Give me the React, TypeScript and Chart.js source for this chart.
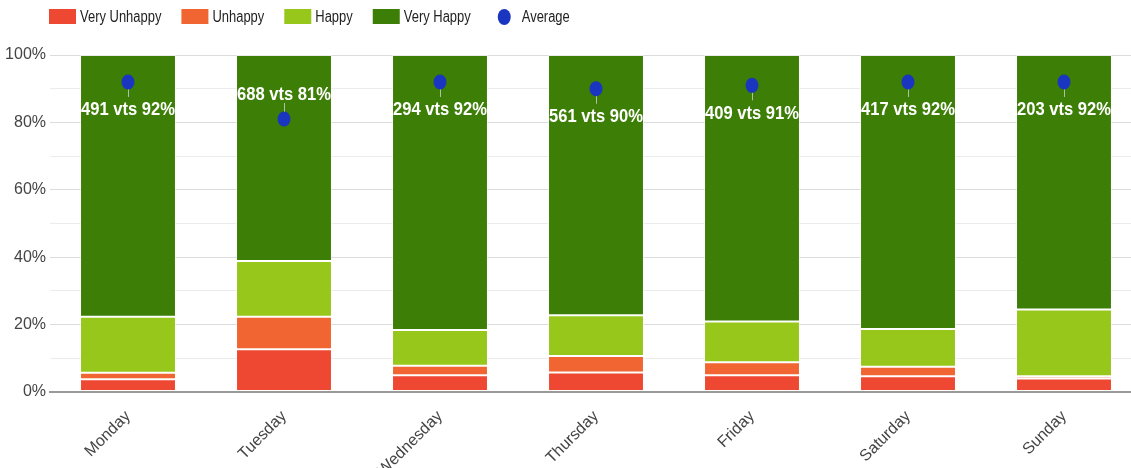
import React, { useEffect, useRef } from 'react';
import { Chart, registerables } from 'chart.js';

Chart.register(...registerables);

const categories = ['Monday', 'Tuesday', 'Wednesday', 'Thursday', 'Friday', 'Saturday', 'Sunday'];
const veryUnhappy = [3.8, 12.7, 5.0, 5.8, 5.0, 4.7, 4.0];
const unhappy = [1.9, 9.6, 2.8, 4.9, 3.8, 2.8, 0.7];
const happy = [16.6, 16.6, 10.6, 12.1, 12.1, 11.2, 19.8];
const veryHappy = [77.7, 61.1, 81.6, 77.2, 79.1, 81.3, 75.5];
const average = [92, 81, 92, 90, 91, 92, 92];
const votes = [491, 688, 294, 561, 409, 417, 203];

const seriesLabels = ['Very Unhappy', 'Unhappy', 'Happy', 'Very Happy', 'Average'];
const seriesColors = ['#EE4832', '#F16533', '#98C71C', '#3D7E07', '#1A35C0'];

const yMin = 0;
const yMax = 100;
const yStep = 10;
const yLabelEvery = 20;

const FONT = '"Liberation Sans", Arial, Helvetica, sans-serif';

const legendPlugin = {
  id: 'customLegend',
  afterDraw(chart: any) {
    const ctx = chart.ctx;
    const sx = 0.81;
    let x = 49;
    const cy = 17;
    ctx.save();
    ctx.font = `16px ${FONT}`;
    ctx.textBaseline = 'middle';
    chart.data.datasets.forEach((ds: any) => {
      const color = ds.legendColor;
      if (ds.type === 'line') {
        ctx.fillStyle = color;
        ctx.beginPath();
        ctx.ellipse(x + 13.5, cy, 6.5, 8, 0, 0, Math.PI * 2);
        ctx.fill();
      } else {
        ctx.fillStyle = color;
        ctx.fillRect(x, cy - 8, 27, 15);
      }
      const tx = x + 31;
      const w = ctx.measureText(ds.label).width * sx;
      ctx.save();
      ctx.translate(tx, cy + 1);
      ctx.scale(sx, 1);
      ctx.fillStyle = '#222';
      ctx.fillText(ds.label, 0, 0);
      ctx.restore();
      x = tx + w + 20;
    });
    ctx.restore();
  },
};

const annotationPlugin = {
  id: 'avgAnnotations',
  afterDatasetsDraw(chart: any) {
    const ctx = chart.ctx;
    const idx = chart.data.datasets.findIndex((d: any) => d.type === 'line');
    if (idx < 0) return;
    const meta = chart.getDatasetMeta(idx);
    const ds = chart.data.datasets[idx];
    ctx.save();
    meta.data.forEach((pt: any, i: number) => {
      const x = pt.x;
      const y = pt.y;
      const v = ds.data[i];
      const above = v < 85;
      ctx.strokeStyle = 'rgba(190,200,190,0.9)';
      ctx.lineWidth = 1;
      ctx.beginPath();
      if (above) {
        ctx.moveTo(x + 0.5, y - 16);
        ctx.lineTo(x + 0.5, y - 7);
      } else {
        ctx.moveTo(x + 0.5, y + 7);
        ctx.lineTo(x + 0.5, y + 15);
      }
      ctx.stroke();
      ctx.fillStyle = ds.legendColor;
      ctx.beginPath();
      ctx.ellipse(x, y, 6.5, 7.5, 0, 0, Math.PI * 2);
      ctx.fill();
      const text = `${votes[i]} vts ${v}%`;
      ctx.font = `bold 19px ${FONT}`;
      ctx.textBaseline = 'alphabetic';
      ctx.textAlign = 'center';
      ctx.fillStyle = '#ffffff';
      const by = above ? y - 19 : y + 33.5;
      ctx.save();
      ctx.translate(x, by);
      ctx.scale(0.873, 1);
      ctx.fillText(text, 0, 0);
      ctx.restore();
    });
    ctx.restore();
  },
};

export default function App() {
  const ref = useRef<HTMLCanvasElement | null>(null);

  useEffect(() => {
    const canvas = ref.current;
    if (!canvas) return;
    const barSeries = [veryUnhappy, unhappy, happy, veryHappy];
    const datasets: any[] = barSeries.map((d, i) => ({
      type: 'bar',
      label: seriesLabels[i],
      data: d,
      backgroundColor: seriesColors[i],
      legendColor: seriesColors[i],
      borderColor: 'rgba(255,255,255,0.45)',
      borderWidth: 1,
      borderSkipped: false,
      stack: 'bars',
      categoryPercentage: 1,
      barPercentage: 0.615,
      order: 2,
    }));
    datasets.push({
      type: 'line',
      label: seriesLabels[4],
      data: average,
      legendColor: seriesColors[4],
      borderColor: seriesColors[4],
      backgroundColor: seriesColors[4],
      showLine: false,
      pointRadius: 0,
      pointHoverRadius: 0,
      stack: 'avg',
      order: 1,
    });

    const chart = new Chart(canvas, {
      type: 'bar',
      data: { labels: categories, datasets },
      options: {
        responsive: false,
        animation: false,
        devicePixelRatio: 1,
        layout: { padding: { top: 55, left: 0, right: 0, bottom: 0 } },
        plugins: {
          legend: { display: false },
          tooltip: { enabled: false },
        },
        scales: {
          x: {
            stacked: true,
            offset: true,
            grid: { display: false, drawTicks: false },
            border: { display: true, color: '#9a9a9a', width: 2 },
            ticks: {
              maxRotation: 45,
              minRotation: 45,
              autoSkip: false,
              padding: 15,
              color: '#444',
              font: { family: FONT, size: 16 },
            },
            afterFit(scale: any) {
              scale.height = 76;
            },
          },
          y: {
            stacked: true,
            min: yMin,
            max: yMax,
            grid: {
              drawTicks: false,
              color: (c: any) =>
                c.tick.value === 0 ? '#9a9a9a' : c.tick.value % yLabelEvery === 0 ? '#dcdcdc' : '#ececec',
              lineWidth: (c: any) => (c.tick.value === 0 ? 2 : 1),
            },
            border: { display: false },
            ticks: {
              stepSize: yStep,
              autoSkip: false,
              padding: 4,
              color: '#444',
              font: { family: FONT, size: 16 },
              callback: (v: any) => (Number(v) % yLabelEvery === 0 ? `${v}%` : ''),
            },
            afterFit(scale: any) {
              scale.width = 50;
            },
          },
        },
      },
      plugins: [legendPlugin, annotationPlugin],
    } as any);

    return () => chart.destroy();
  }, []);

  return (
    <div
      style={{
        position: 'absolute',
        left: 0,
        top: 0,
        width: 1131,
        height: 468,
        overflow: 'hidden',
        background: '#fff',
      }}
    >
      <canvas ref={ref} width={1142} height={468} style={{ display: 'block', width: 1142, height: 468 }} />
    </div>
  );
}
